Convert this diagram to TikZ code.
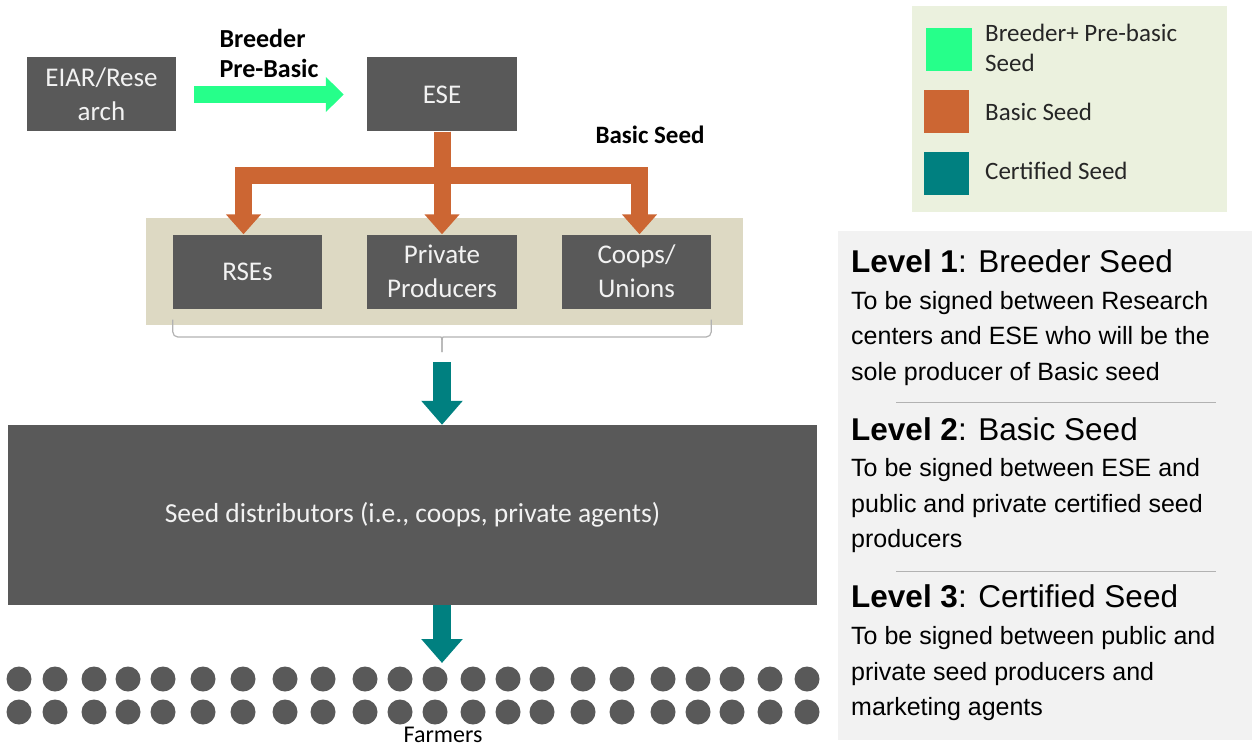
\documentclass[tikz,border=0pt]{standalone}
\usepackage{fontspec}
\setmainfont{Carlito}
\newfontfamily\arialfont{Liberation Sans}
\usetikzlibrary{arrows.meta}
\usetikzlibrary{calc}

\definecolor{boxgray}{HTML}{595959}
\definecolor{prebasic}{RGB}{38,255,138}
\definecolor{basic}{RGB}{204,102,51}
\definecolor{certified}{HTML}{008080}
\definecolor{beige}{HTML}{DDD9C3}
\definecolor{legendbg}{HTML}{EBF1DE}
\definecolor{panelbg}{HTML}{F2F2F2}

\begin{document}
\begin{tikzpicture}[x=1pt,y=-1pt,inner sep=0pt,node distance=194.5pt,
  gbox/.style={fill=boxgray,text=panelbg,minimum width=149pt,minimum height=74pt,align=center,font=\fontsize{27}{34}\selectfont},
  lgbox/.style={minimum width=45pt,minimum height=43pt},
  lgtxt/.style={anchor=west,align=left,text={black!85},font=\fontsize{25}{30}\selectfont},
  lvhead/.style={anchor=base west,font=\arialfont\fontsize{31.5}{31.5}\selectfont},
  lvbody/.style={anchor=base west,font=\arialfont\fontsize{25}{25}\selectfont},
  pbarr/.style={draw=prebasic,line width=17pt,-{Triangle[width=34pt,length=18pt]}},
  basicarr/.style={draw=basic,line width=17pt,line join=miter,-{Triangle[width=34pt,length=20pt]}},
  certarr/.style={draw=certified,line width=18pt,-{Triangle[width=40pt,length=24pt]}},
  bracel/.style={draw=black!30,line width=1.2pt,rounded corners=5pt}]%,>=latex'
\useasboundingbox (0,0) rectangle (1252,749);
% left part
\node [gbox,minimum width=150pt] (ESE) at (442,94.5) {ESE};
\node [gbox] [left of=ESE,node distance=340.5pt] (EIAR) {EIAR/Rese\\arch};
\node [fill=beige,minimum width=597pt,minimum height=107pt] (band) at (444.5,271.5) {};
\node [gbox,minimum width=150pt] (Priv) at (442,271.5) {Private\\Producers};
\node [gbox] [left of=Priv] (RSEs) {RSEs};
\node [gbox] [right of=Priv] (Coops) {Coops/\\Unions};
\node [gbox,minimum width=809pt,minimum height=180pt,font=\fontsize{27.5}{34}\selectfont] (dist) at (412.5,515) {Seed distributors (i.e., coops, private agents)};
\node [font=\bfseries\fontsize{26}{30}\selectfont,align=left] (pblab) at (269,53) {Breeder\\Pre-Basic};
\node [font=\bfseries\fontsize{25}{25}\selectfont] (bslab) at (650,135) {Basic Seed};
\draw [pbarr,shorten <=18pt,shorten >=23pt] (EIAR) -- (ESE);
\draw [basicarr] (ESE.south) -- ++(0,44) -| ($(RSEs.north)+(-4,0)$);
\draw [basicarr] (ESE.south) -- (Priv.north);
\draw [basicarr] (ESE.south) -- ++(0,44) -| ($(Coops.north)+(3,0)$);
% brace under the producers
\coordinate (brtip) at (442,352);
\draw [bracel] ($(RSEs.south west)+(0,11)$) |- (436,337) to[out=0,in=90] (brtip);
\draw [bracel] ($(Coops.south east)+(0,11)$) |- (448,337) to[out=180,in=90] (brtip);
\coordinate (farm) at (442,663);
\draw [certarr,shorten <=10pt] (brtip) -- (brtip |- dist.north);
\draw [certarr] (dist.south -| farm) -- (farm);
\foreach \x in {19,55,94,128,163,203,243,285,323,365,400,435,473,508,542,583,622,663,698,732,770,807}
  {\fill [boxgray] (\x,679) circle (12.5pt);
   \fill [boxgray] (\x,712) circle (12.5pt);}
\node [font=\fontsize{24}{24}\selectfont] (farmers) at (443,735) {Farmers};
% legend
\node [fill=legendbg,minimum width=315pt,minimum height=206pt] (legend) at (1069.5,109) {};
\node [lgbox,fill=prebasic,minimum width=46pt] (lgpre) at (949,50) {};
\node [lgbox,fill=basic] (lgbasic) at (946.5,111.5) {};
\node [lgbox,fill=certified] (lgcert) at (946.5,173.5) {};
\node [lgtxt] (lgpretxt) at (985,48) {Breeder+ Pre-basic\\Seed};
\node [lgtxt] (lgbasictxt) at (985,112) {Basic Seed};
\node [lgtxt] (lgcerttxt) at (985,171) {Certified Seed};
% levels
\node [fill=panelbg,minimum width=414pt,minimum height=509pt] (panel) at (1045,485.5) {};
\node [lvhead] (lv1) at (851,272) {\textbf{Level 1}: Breeder Seed};
\node [lvhead] (lv2) at (851,440) {\textbf{Level 2}: Basic Seed};
\node [lvhead] (lv3) at (851,607) {\textbf{Level 3}: Certified Seed};
\foreach \y/\t [count=\i] in {309/To be signed between Research,344.5/centers and ESE who will be the,380/sole producer of Basic seed,
  476/To be signed between ESE and,512/public and private certified seed,547.5/producers,
  644/To be signed between public and,680/private seed producers and,715.5/marketing agents}
  \node [lvbody] (lvl\i) at (851,\y) {\t};
\draw [black!30,line width=1pt] (896,402.5) -- (1216,402.5);
\draw [black!30,line width=1pt] (896,571) -- (1216,571);
\end{tikzpicture}
\end{document}
